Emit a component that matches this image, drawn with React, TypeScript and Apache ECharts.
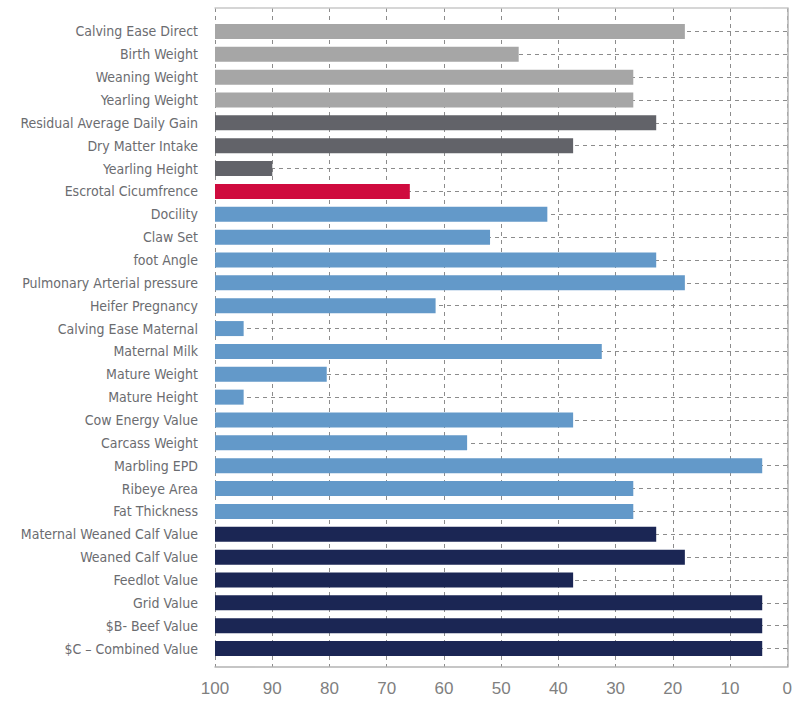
import React, { useEffect, useRef } from "react";
import * as echarts from "echarts";

const categories = [
  "Calving Ease Direct",
  "Birth Weight",
  "Weaning Weight",
  "Yearling Weight",
  "Residual Average Daily Gain",
  "Dry Matter Intake",
  "Yearling Height",
  "Escrotal Cicumfrence",
  "Docility",
  "Claw Set",
  "foot Angle",
  "Pulmonary Arterial pressure",
  "Heifer Pregnancy",
  "Calving Ease Maternal",
  "Maternal Milk",
  "Mature Weight",
  "Mature Height",
  "Cow Energy Value",
  "Carcass Weight",
  "Marbling EPD",
  "Ribeye Area",
  "Fat Thickness",
  "Maternal Weaned Calf Value",
  "Weaned Calf Value",
  "Feedlot Value",
  "Grid Value",
  "$B- Beef Value",
  "$C \u2013 Combined Value",
];

// percentile rank (bar runs from 100 to this value)
const values = [
  18, 47, 27, 27, 23, 37.5, 90, 66, 42, 52, 23, 18, 61.5, 95, 32.5, 80.5, 95,
  37.5, 56, 4.5, 27, 27, 23, 18, 37.5, 4.5, 4.5, 4.5,
];

const groups = [
  "light", "light", "light", "light",
  "dark", "dark", "dark",
  "red",
  "blue", "blue", "blue", "blue", "blue", "blue", "blue", "blue", "blue", "blue", "blue", "blue", "blue", "blue",
  "navy", "navy", "navy", "navy", "navy", "navy",
];

const groupColors: Record<string, string> = {
  light: "#a6a6a6",
  dark: "#626369",
  red: "#cf0b3e",
  blue: "#6399c9",
  navy: "#1b2654",
};

const tickValues = [100, 90, 80, 70, 60, 50, 40, 30, 20, 10, 0];

export default function App() {
  const ref = useRef<HTMLDivElement>(null);
  useEffect(() => {
    document.body.style.margin = "0";
    document.body.style.overflow = "hidden";
    if (!ref.current) return;
    const chart = echarts.init(ref.current, null, { renderer: "svg" });
    const gridDash = { color: "#8c8c8c", width: 1, type: [4, 4] as any };
    chart.setOption({
      animation: false,
      grid: [
        { left: 215, top: 8, width: 573, height: 659 },
        { left: 215, top: 20, width: 573, height: 640 },
      ],
      xAxis: [
        {
          gridIndex: 0,
          type: "value",
          inverse: true,
          min: 0,
          max: 100,
          interval: 10,
          position: "bottom",
          axisLine: { show: true, lineStyle: { color: "#b3b3b3", width: 1.5 } },
          axisTick: { show: false },
          axisLabel: {
            margin: 13,
            fontFamily: "Liberation Sans",
            fontSize: 17,
            color: "#808080",
            formatter: (v: number) => (tickValues.includes(v) ? String(v) : ""),
          },
          splitLine: { show: true, lineStyle: gridDash },
        },
        {
          gridIndex: 0,
          type: "value",
          inverse: true,
          min: 0,
          max: 100,
          position: "top",
          axisLine: { show: true, lineStyle: { color: "#c8c8c8", width: 1.5 } },
          axisTick: { show: false },
          axisLabel: { show: false },
          splitLine: { show: false },
        },
        {
          gridIndex: 1,
          type: "value",
          inverse: true,
          min: 0,
          max: 100,
          show: false,
          splitLine: { show: false },
        },
      ],
      yAxis: [
        {
          gridIndex: 0,
          type: "value",
          min: 0,
          max: 1,
          axisLine: { show: true, lineStyle: { color: "#b3b3b3", width: 1.5 } },
          axisTick: { show: false },
          axisLabel: { show: false },
          splitLine: { show: false },
        },
        {
          gridIndex: 1,
          type: "category",
          inverse: true,
          data: categories,
          axisLine: { show: false },
          axisTick: { show: false },
          axisLabel: {
            margin: 17,
            fontFamily: "Liberation Sans Narrow, DejaVu Sans Condensed, Roboto, sans-serif",
            fontSize: 14,
            color: "#6b6c70",
          },
          splitLine: { show: true, alignWithLabel: true, lineStyle: gridDash } as any,
        },
      ],
      series: [
        {
          type: "bar",
          xAxisIndex: 2,
          yAxisIndex: 1,
          stack: "rank",
          barWidth: 15,
          itemStyle: { color: "transparent" },
          silent: true,
          data: values,
        },
        {
          type: "bar",
          xAxisIndex: 2,
          yAxisIndex: 1,
          stack: "rank",
          barWidth: 15,
          data: values.map((v, i) => ({
            value: 100 - v,
            itemStyle: { color: groupColors[groups[i]] },
          })),
        },
      ],
    });
    return () => chart.dispose();
  }, []);
  return <div ref={ref} style={{ width: 795, height: 701 }} />;
}
